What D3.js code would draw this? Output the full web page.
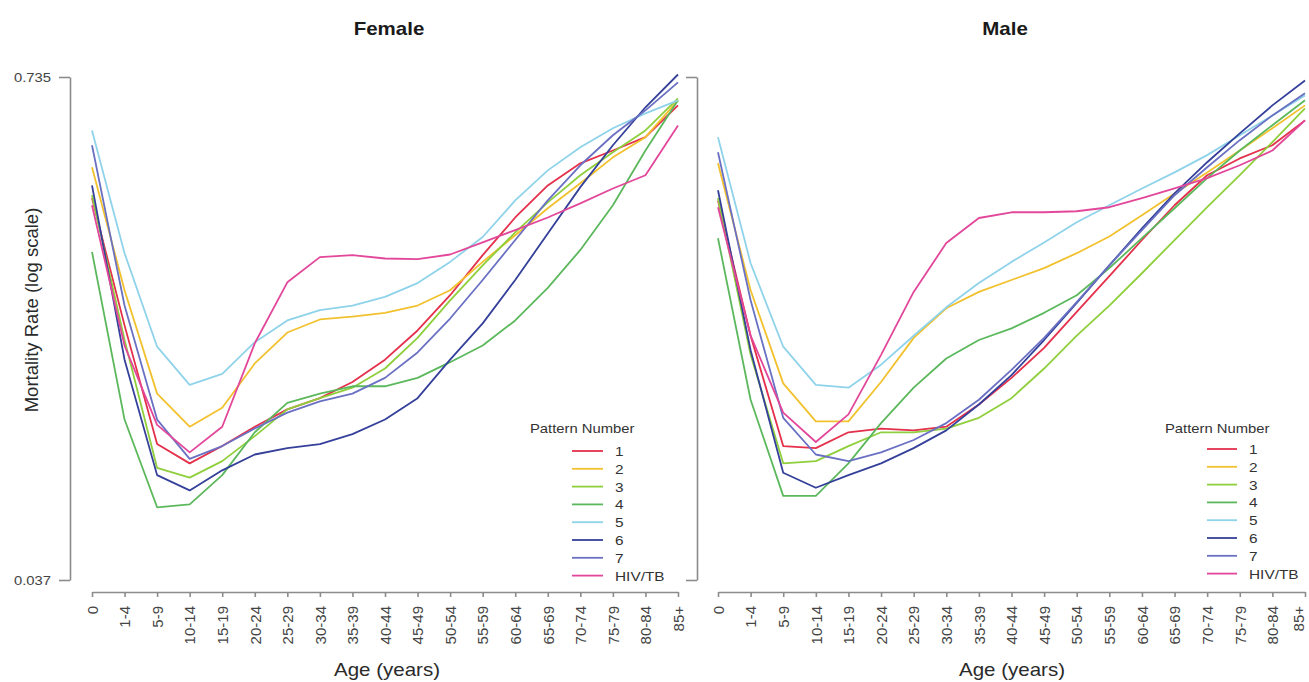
<!DOCTYPE html>
<html>
<head>
<meta charset="utf-8">
<script src="https://cdn.jsdelivr.net/npm/d3@7"></script>
<style>
  body { margin: 0; background: #fff; }
  svg { display: block; font-family: "Liberation Sans", Arial, sans-serif; }
</style>
</head>
<body>
<svg id="chart" width="1309" height="682"></svg>
<script>
// ─── Data (mortality rate, log scale) ───────────────────────

const ages = ["0", "1-4", "5-9", "10-14", "15-19", "20-24", "25-29", "30-34", "35-39",
  "40-44", "45-49", "50-54", "55-59", "60-64", "65-69", "70-74", "75-79", "80-84", "85+"];

const patterns = ["1", "2", "3", "4", "5", "6", "7", "HIV/TB"];

const yTicks = [0.037, 0.735];

// Female
const female1 = [0.358, 0.168, 0.083, 0.074, 0.082, 0.092, 0.102, 0.109, 0.120, 0.137, 0.163, 0.201, 0.255, 0.319, 0.386, 0.440, 0.475, 0.514, 0.621];
const female2 = [0.430, 0.207, 0.112, 0.092, 0.103, 0.134, 0.161, 0.174, 0.177, 0.181, 0.189, 0.207, 0.245, 0.287, 0.337, 0.391, 0.456, 0.514, 0.640];
const female3 = [0.364, 0.154, 0.072, 0.068, 0.075, 0.087, 0.102, 0.109, 0.116, 0.130, 0.156, 0.195, 0.240, 0.292, 0.349, 0.410, 0.470, 0.535, 0.647];
const female4 = [0.260, 0.096, 0.057, 0.058, 0.069, 0.089, 0.106, 0.112, 0.117, 0.117, 0.123, 0.135, 0.149, 0.173, 0.210, 0.263, 0.343, 0.475, 0.640];
const female5 = [0.535, 0.258, 0.148, 0.118, 0.126, 0.152, 0.173, 0.184, 0.189, 0.199, 0.216, 0.245, 0.284, 0.353, 0.422, 0.484, 0.542, 0.592, 0.640];
const female6 = [0.386, 0.137, 0.069, 0.063, 0.071, 0.078, 0.081, 0.083, 0.088, 0.096, 0.109, 0.137, 0.170, 0.220, 0.290, 0.382, 0.490, 0.614, 0.746];
const female7 = [0.490, 0.189, 0.096, 0.076, 0.082, 0.091, 0.100, 0.107, 0.112, 0.123, 0.143, 0.175, 0.220, 0.279, 0.353, 0.435, 0.520, 0.603, 0.712];
const femaleHIV = [0.343, 0.149, 0.093, 0.079, 0.092, 0.151, 0.217, 0.252, 0.255, 0.250, 0.249, 0.256, 0.275, 0.296, 0.319, 0.347, 0.379, 0.410, 0.551];

// Male
const male1 = [0.353, 0.158, 0.082, 0.081, 0.089, 0.091, 0.090, 0.092, 0.105, 0.123, 0.147, 0.182, 0.225, 0.279, 0.343, 0.410, 0.453, 0.490, 0.568];
const male2 = [0.440, 0.207, 0.119, 0.095, 0.095, 0.120, 0.156, 0.186, 0.205, 0.220, 0.236, 0.258, 0.285, 0.323, 0.368, 0.417, 0.475, 0.542, 0.621];
const male3 = [0.358, 0.141, 0.074, 0.075, 0.082, 0.089, 0.089, 0.091, 0.097, 0.109, 0.130, 0.158, 0.189, 0.229, 0.279, 0.339, 0.410, 0.499, 0.610];
const male4 = [0.282, 0.108, 0.061, 0.061, 0.074, 0.094, 0.116, 0.138, 0.154, 0.165, 0.181, 0.201, 0.236, 0.282, 0.337, 0.403, 0.475, 0.552, 0.640];
const male5 = [0.514, 0.243, 0.148, 0.118, 0.116, 0.133, 0.158, 0.187, 0.216, 0.245, 0.275, 0.310, 0.343, 0.379, 0.417, 0.462, 0.520, 0.585, 0.659];
const male6 = [0.375, 0.145, 0.070, 0.064, 0.069, 0.074, 0.081, 0.090, 0.105, 0.125, 0.154, 0.192, 0.240, 0.299, 0.368, 0.443, 0.526, 0.621, 0.720];
const male7 = [0.470, 0.195, 0.097, 0.078, 0.075, 0.079, 0.085, 0.094, 0.108, 0.129, 0.156, 0.193, 0.240, 0.296, 0.364, 0.430, 0.505, 0.585, 0.667];
const maleHIV = [0.339, 0.158, 0.100, 0.084, 0.099, 0.141, 0.205, 0.274, 0.318, 0.329, 0.329, 0.331, 0.339, 0.358, 0.379, 0.403, 0.435, 0.475, 0.568];

const femaleSeries = [female1, female2, female3, female4, female5, female6, female7, femaleHIV];
const maleSeries = [male1, male2, male3, male4, male5, male6, male7, maleHIV];

// ─── Styling ────────────────────────────────────────────────

const colors = ["#e4304b", "#f2c12e", "#8fcf3c", "#5cb85c", "#8fd3ea", "#34409a", "#6a70c2", "#e2479a"];
const axisColor = "#8c8c8c";
const SX = 1.14; // source image text is stretched horizontally

const svg = d3.select("#chart");
svg.append("rect").attr("width", 1309).attr("height", 682).attr("fill", "#fff");

const y = d3.scaleLog().domain([yTicks[0], yTicks[1]]).range([580, 77]);

// horizontal text, stretched like the source
function label(g, x, yPos, str, size, anchor, weight, fill) {
  return g.append("text")
    .attr("transform", `translate(${x},${yPos}) scale(${SX},1)`)
    .attr("text-anchor", anchor)
    .attr("font-size", size)
    .attr("font-weight", weight || "normal")
    .attr("fill", fill || "#222")
    .text(str);
}

function drawPanel(opts) {
  const g = svg.append("g");
  const x = d3.scalePoint().domain(ages).range([opts.x0, opts.x1]);

  // y axis
  const yAxis = g.append("g")
    .attr("transform", `translate(${opts.axisX},0)`)
    .call(d3.axisLeft(y)
      .tickValues(yTicks)
      .tickSize(11)
      .tickSizeOuter(0)
      .tickFormat(opts.yLabels ? d3.format(".3f") : () => ""));
  yAxis.selectAll("path, line").attr("stroke", axisColor).attr("stroke-width", 1.6);
  yAxis.selectAll("text")
    .attr("x", 0)
    .attr("transform", `translate(-19,0) scale(${SX},1)`)
    .attr("font-size", 13)
    .attr("font-family", null)
    .attr("fill", "#444");

  // x axis
  const xAxis = g.append("g")
    .attr("transform", "translate(0,592)")
    .call(d3.axisBottom(x).tickSize(5).tickSizeOuter(0));
  xAxis.selectAll("path, line").attr("stroke", axisColor).attr("stroke-width", 1.6);
  xAxis.selectAll("text")
    .attr("x", 0)
    .attr("y", 0)
    .attr("dy", "0.35em")
    .attr("transform", d => `translate(${d === "85+" ? opts.lastShift : 0},14) rotate(-90)`)
    .attr("text-anchor", "end")
    .attr("font-size", 15)
    .attr("font-family", null)
    .attr("fill", "#444");

  // series lines
  const line = d3.line()
    .x((d, i) => x(ages[i]))
    .y(d => y(d));

  g.selectAll("path.series")
    .data(opts.series)
    .enter()
    .append("path")
    .attr("class", "series")
    .attr("d", line)
    .attr("fill", "none")
    .attr("stroke", (d, i) => colors[i])
    .attr("stroke-width", 1.8)
    .attr("stroke-linejoin", "round");

  // titles
  label(g, opts.titleX, 35, opts.title, 18, "middle", "bold", "#1a1a1a");
  label(g, opts.xTitleX, 676, "Age (years)", 18, "middle", "normal", "#2a2a2a");

  // legend
  label(g, opts.legendX, 433, "Pattern Number", 13, "start", "normal", "#333");
  patterns.forEach((p, i) => {
    const ly = opts.legendY + i * 17.8;
    g.append("line")
      .attr("x1", opts.legendX + opts.legendLine[0])
      .attr("x2", opts.legendX + opts.legendLine[1])
      .attr("y1", ly)
      .attr("y2", ly)
      .attr("stroke", colors[i])
      .attr("stroke-width", 1.8);
    label(g, opts.legendX + opts.legendLine[1] + 12, ly + 5, p, 13.5, "start", "normal", "#333");
  });
}

drawPanel({
  title: "Female", titleX: 389, xTitleX: 387,
  x0: 92, x1: 678, axisX: 70, yLabels: true, lastShift: 0,
  series: femaleSeries,
  legendX: 530, legendY: 451, legendLine: [42, 73]
});

drawPanel({
  title: "Male", titleX: 1005, xTitleX: 1012,
  x0: 718, x1: 1305, axisX: 697, yLabels: false, lastShift: -7,
  series: maleSeries,
  legendX: 1165, legendY: 449, legendLine: [42, 72]
});

// y axis title (shared, left)
svg.append("text")
  .attr("transform", "translate(38,310) rotate(-90)")
  .attr("text-anchor", "middle")
  .attr("font-size", 18.5)
  .attr("fill", "#2a2a2a")
  .text("Mortality Rate (log scale)");
</script>
</body>
</html>
